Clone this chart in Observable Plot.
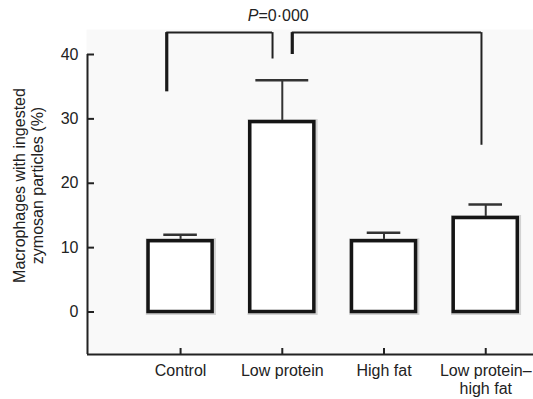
<!DOCTYPE html>
<html>
<head>
<meta charset="utf-8">
<script src="https://cdn.jsdelivr.net/npm/d3@7"></script>
<script src="https://cdn.jsdelivr.net/npm/@observablehq/plot@0.6"></script>
<style>
  html, body { margin: 0; padding: 0; background: #fff; }
  #chart svg { display: block; }
</style>
</head>
<body>
<div id="chart"></div>
<script>
// ---- data ----
const categories = ["Control", "Low protein", "High fat", "Low protein–high fat"];
const tickLabels = ["Control", "Low protein", "High fat", "Low protein–\nhigh fat"];
const means = [11.0, 29.5, 11.0, 14.6];
const errors = [1.0, 6.5, 1.3, 2.1];
const yTicks = [0, 10, 20, 30, 40];
const yLabel = "Macrophages with ingested\nzymosan particles (%)";
const pLabel = "P=0·000";
// significance brackets (x in category index units, y in %)
const bracketLeftX = [-0.136, 1.098];
const bracketRightX = [0.904, 2.958];
const bracketTop = [43.4, 43.4];
const bracketLeftEnd = [34.2, 40.0];
const bracketRightEnd = [39.3, 25.9];
const pLabelX = 0.96;
const pLabelY = 46.0;

const xDomain = [-0.915, 3.44];
const yDomain = [-6.6, 40];

const rows = categories.map((c, i) => ({i, cat: c, mean: means[i], err: errors[i]}));
const brackets = bracketLeftX.map((x, k) => ({
  x1: x, x2: bracketRightX[k], top: bracketTop[k], le: bracketLeftEnd[k], re: bracketRightEnd[k]
}));

const half = 0.315;
const capHalf = d => d.cat === "Low protein" ? 0.26 : 0.165;
const font = "'Liberation Sans', Arial, Helvetica, sans-serif";

const plot = Plot.plot({
  width: 533,
  height: 399,
  marginLeft: 87,
  marginRight: 3,
  marginTop: 54,
  marginBottom: 45,
  style: {fontFamily: font, fontSize: "16px", color: "#222", background: "#fff"},
  x: {type: "linear", domain: xDomain, axis: null},
  y: {type: "linear", domain: yDomain, axis: null},
  marks: [
    Plot.frame({fill: "#f9f9f9", stroke: "none", insetTop: -25, insetBottom: -1, insetLeft: -1, insetRight: -3}),
    // axes lines
    Plot.ruleX([xDomain[0]], {y1: yDomain[0], y2: yDomain[1], stroke: "#222", strokeWidth: 2}),
    Plot.ruleY([yDomain[0]], {stroke: "#222", strokeWidth: 2, insetRight: -3}),
    Plot.axisY({ticks: yTicks, tickSize: -7, fontSize: 16, stroke: "#222", strokeWidth: 2, fill: "#222", label: null}),
    Plot.axisX({ticks: [0, 1, 2, 3], tickFormat: i => tickLabels[i], tickSize: -6, fontSize: 16, lineHeight: 1.1, stroke: "#222", strokeWidth: 2, fill: "#222", label: null}),
    // y label
    Plot.text([yLabel], {frameAnchor: "left", text: d => d, rotate: -90, textAnchor: "middle", lineAnchor: "middle", dx: -59, dy: -19, fontSize: 16, lineHeight: 1.12, fill: "#222"}),
    // error bars
    Plot.ruleX(rows, {x: "i", y1: "mean", y2: d => d.mean + d.err, stroke: "#333", strokeWidth: 2}),
    Plot.ruleY(rows, {y: d => d.mean + d.err, x1: d => d.i - capHalf(d), x2: d => d.i + capHalf(d), stroke: "#333", strokeWidth: 2.5}),
    // bar shadows
    Plot.rect(rows, {x1: d => d.i - half, x2: d => d.i + half, y1: 0, y2: "mean", fill: "none", stroke: "#777", strokeWidth: 6, strokeOpacity: 0.3, dx: 0.8, dy: 0.5}),
    // bars
    Plot.rect(rows, {x1: d => d.i - half, x2: d => d.i + half, y1: 0, y2: "mean", fill: "white", stroke: "#151515", strokeWidth: 3.5}),
    // brackets
    Plot.ruleY(brackets, {y: "top", x1: "x1", x2: "x2", stroke: "#222", strokeWidth: 2}),
    Plot.ruleX(brackets, {x: "x1", y1: "top", y2: "le", stroke: "#1a1a1a", strokeWidth: 3.2}),
    Plot.ruleX(brackets, {x: "x2", y1: "top", y2: "re", stroke: "#222", strokeWidth: 2}),
    // P label
    Plot.text([pLabel], {x: pLabelX, y: pLabelY, text: d => d, fontSize: 16, fill: "#222", textAnchor: "middle", lineAnchor: "middle"})
  ]
});

// italicise the leading P of the P label
plot.querySelectorAll("text").forEach(t => {
  if (t.textContent === pLabel) {
    const ns = "http://www.w3.org/2000/svg";
    t.textContent = "";
    const a = document.createElementNS(ns, "tspan");
    a.setAttribute("font-style", "italic");
    a.textContent = pLabel.slice(0, 1);
    const b = document.createElementNS(ns, "tspan");
    b.textContent = pLabel.slice(1);
    t.appendChild(a);
    t.appendChild(b);
  }
});

document.getElementById("chart").appendChild(plot);
</script>
</body>
</html>
